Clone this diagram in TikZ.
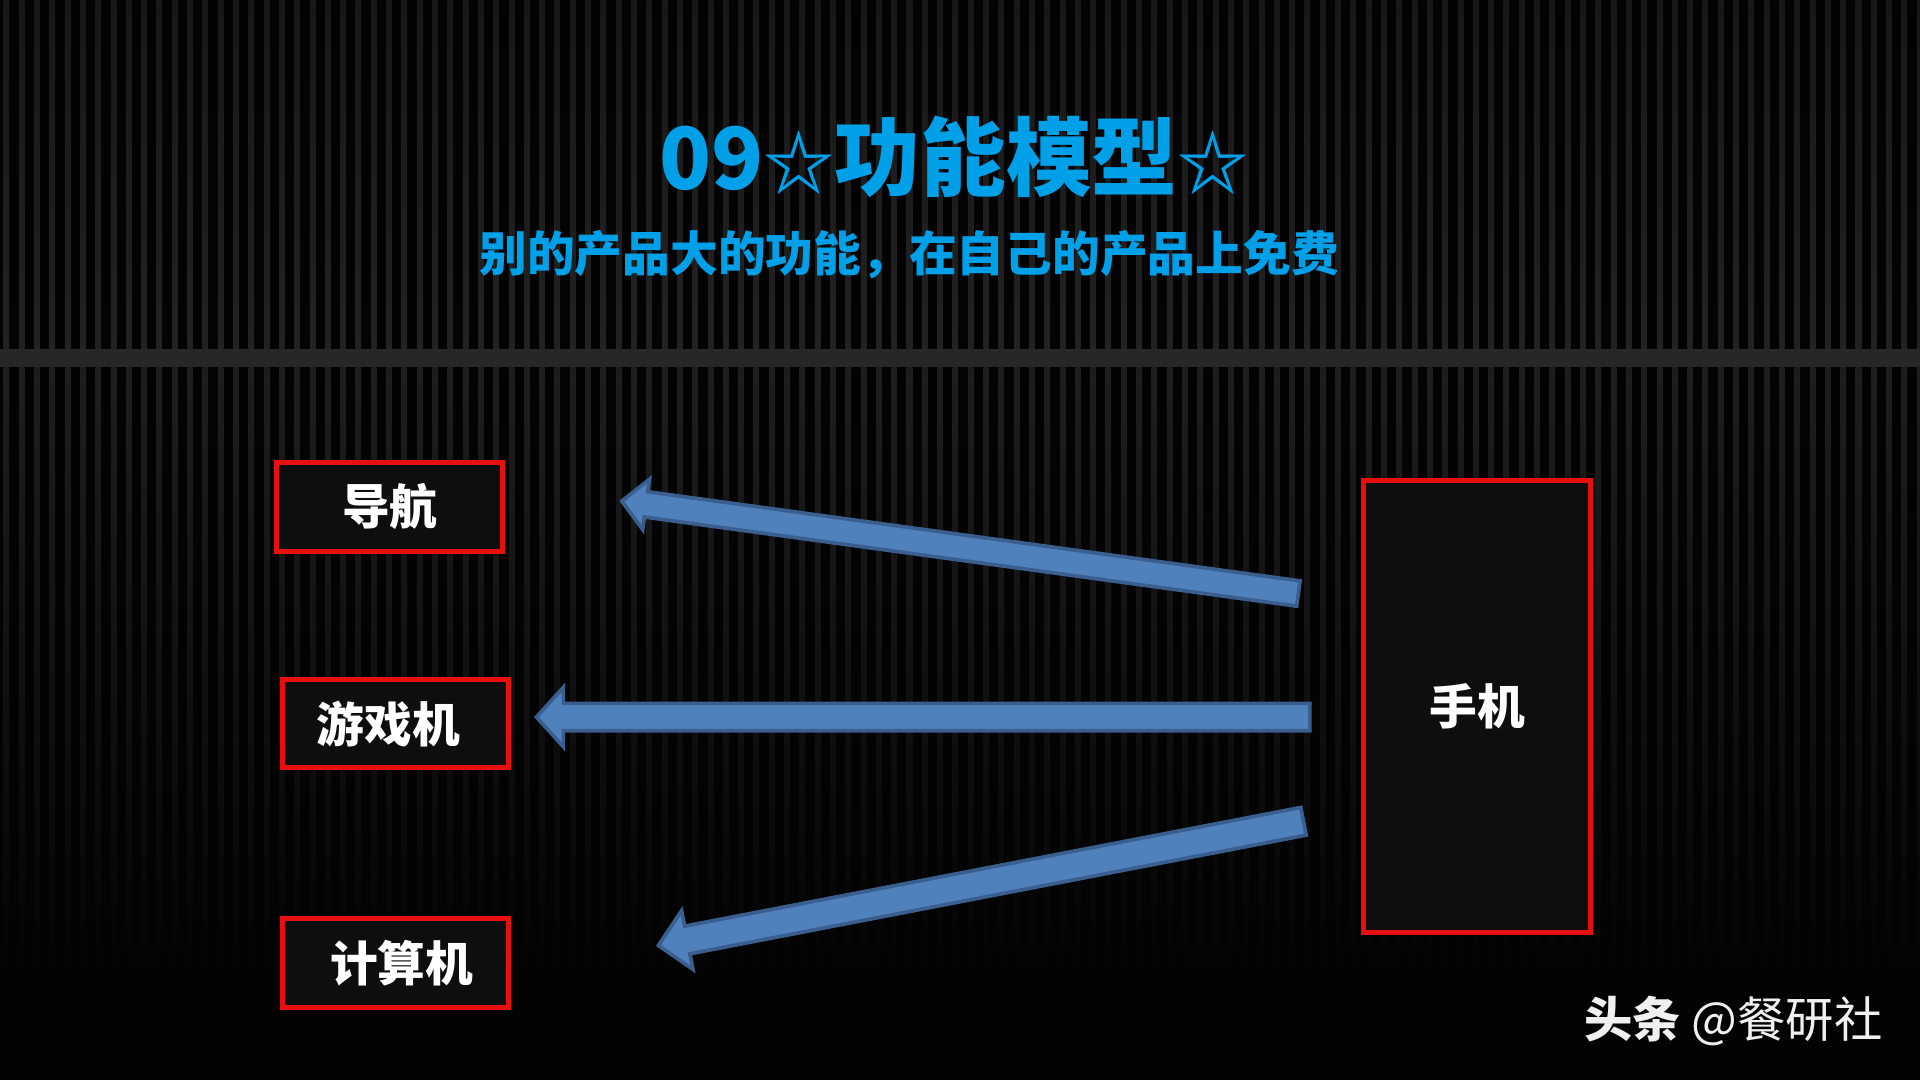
\documentclass[tikz,border=0pt]{standalone}
\usepackage{fontspec}
\usetikzlibrary{calc}
\newfontfamily\cjk{Noto Sans CJK SC}
\definecolor{bgblack}{HTML}{030303}
\definecolor{stripetop}{HTML}{171717}
\definecolor{stripemid}{HTML}{222222}
\definecolor{stripelow}{HTML}{1E1E1E}
\definecolor{divider}{HTML}{272727}
\definecolor{titleblue}{HTML}{00A0E9}
\definecolor{boxred}{HTML}{E8100F}
\definecolor{boxfill}{HTML}{0E0E0E}
\definecolor{arrowfill}{HTML}{4F81BD}
\definecolor{arrowedge}{HTML}{3A5F8E}
\tikzset{
  redbox/.style={draw=boxred, line width=4pt, fill=boxfill, text=white,
    font=\cjk\bfseries\fontsize{39}{39}\selectfont, inner sep=0pt},
  blockarrow/.style={fill=arrowfill, draw=arrowedge, line width=3pt, line join=miter},
  titletext/.style={text=titleblue, font=\cjk\bfseries\fontsize{70}{70}\selectfont, inner sep=0pt},
  subtext/.style={text=titleblue, font=\cjk\bfseries\fontsize{39}{39}\selectfont, inner sep=0pt},
  marktext/.style={text=white!94!black, font=\cjk\fontsize{39.5}{39.5}\selectfont, inner sep=0pt}
}
\newcommand{\smallstar}{{\fontsize{58}{58}\selectfont ☆}}
% #1 tail, #2 tip, #3 half shaft width, #4 half head width, #5 head length
\newcommand{\blkarrow}[5]{%
  \coordinate (#2-j) at ($(#2)!#5!(#1)$);
  \filldraw[blockarrow]
    ($(#1)!#3!90:(#2)$) -- ($(#2-j)!#3!90:(#2)$) -- ($(#2-j)!#4!90:(#2)$) --
    (#2) --
    ($(#2-j)!#4!-90:(#2)$) -- ($(#2-j)!#3!-90:(#2)$) -- ($(#1)!#3!-90:(#2)$) -- cycle;
}
\begin{document}
\begin{tikzpicture}[x=1pt,y=-1pt]
\useasboundingbox (0,0) rectangle (1568,882);
\fill[bgblack] (0,0) rectangle (1568,882);
% stripes
\foreach \i in {0,...,125}{
  \pgfmathsetmacro\xx{3+\i*12.5}
  \shade[top color=stripetop, bottom color=stripemid] (\xx,0) rectangle ++(4.5,285);
  \shade[top color=stripelow, bottom color=bgblack] (\xx,300) rectangle ++(4.5,500);
}
% divider band
\fill[divider] (0,285) rectangle (1568,300);

% titles
\node[titletext] (title) at (779,128) {09\smallstar 功能模型\smallstar};
\node[subtext] (subtitle) at (742.5,208) {别的产品大的功能，在自己的产品上免费};

% boxes
\node[redbox, minimum width=184.5pt, minimum height=72.3pt] (nav) at (318.3,413.9) {导航};
\node[redbox, minimum width=184pt, minimum height=72pt] (game) at (323,591) {\hspace*{-12pt}游戏机};
\node[redbox, minimum width=184pt, minimum height=73pt] (pc) at (323,786.5) {\hspace*{10pt}计算机};
\node[redbox, minimum width=185.5pt, minimum height=369.5pt] (phone) at (1206.3,576.8) {手机};

% arrows
\coordinate (t1) at (1060.3,484.7);
\coordinate (h1) at (507.8,409.2);
\coordinate (t2) at (1069.7,585.6);
\coordinate (h2) at (438.1,585.6);
\coordinate (t3) at (1064.5,670.7);
\coordinate (h3) at (537.7,772.2);
\blkarrow{t1}{h1}{10.4pt}{20.7pt}{20pt}
\blkarrow{t2}{h2}{11.2pt}{24.3pt}{22pt}
\blkarrow{t3}{h3}{11.5pt}{24.4pt}{24pt}

% watermark
\node[marktext] (mark) at (1415.5,833.5) {{\bfseries 头条} @餐研社};
\end{tikzpicture}
\end{document}
